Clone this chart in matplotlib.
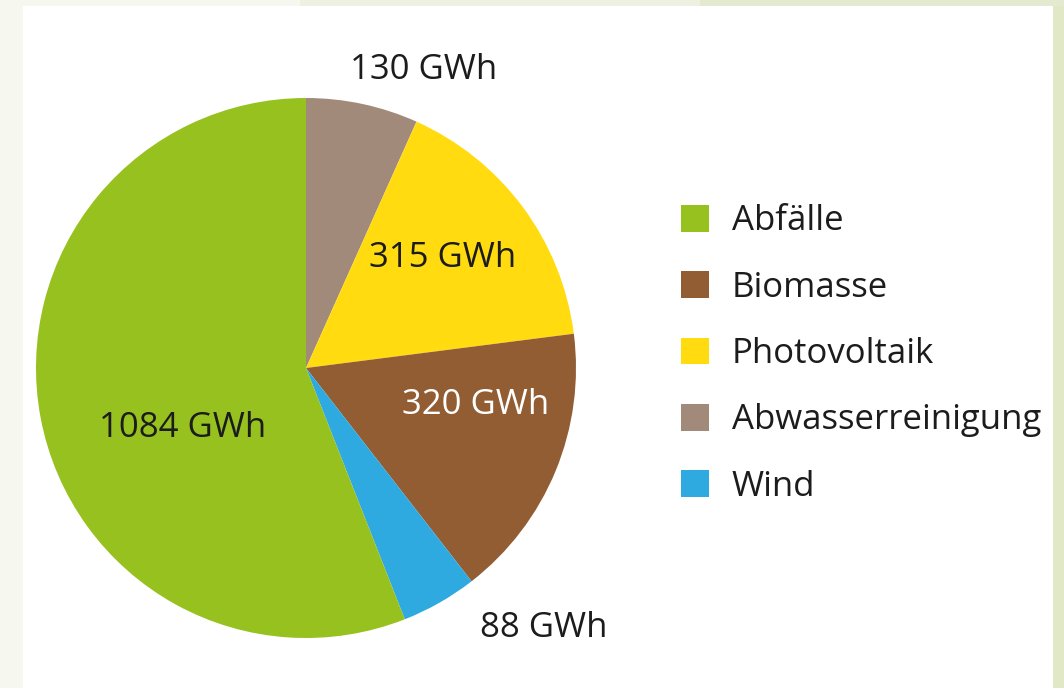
import matplotlib
matplotlib.use('Agg')
import matplotlib.pyplot as plt
from matplotlib.patches import Rectangle


# energy sources, drawn clockwise from 12 o'clock
SOURCES = ['Abwasserreinigung', 'Photovoltaik', 'Biomasse', 'Wind', 'Abfälle']
VALUES = [130, 315, 320, 88, 1084]
COLORS = ['#a28a7a', '#ffdb10', '#925d33', '#2eaae1', '#97c11f']

# legend order as in the original
LEGEND_ORDER = ['Abfälle', 'Biomasse', 'Photovoltaik', 'Abwasserreinigung', 'Wind']

# where the value labels sit (axes data units, radius = 1)
LABEL_POS = {
    'Abwasserreinigung': (0.437, 1.103, '#1c1c1c'),
    'Photovoltaik': (0.507, 0.407, '#1c1c1c'),
    'Biomasse': (0.630, -0.137, 'white'),
    'Wind': (0.881, -0.963, '#1c1c1c'),
    'Abfälle': (-0.456, -0.222, '#1c1c1c'),
}

W, H = 1064, 688
plt.rcParams['font.family'] = ['Open Sans', 'DejaVu Sans']

fig = plt.figure(figsize=(W / 100, H / 100), dpi=100)
fig.patch.set_facecolor('#f6f7ef')

# framing: green strip right/top, white panel
frame = [
    ((1053 / W, 0), 11 / W, 1, '#e0e8c6'),
    ((300 / W, 1 - 6 / H), 400 / W, 6 / H, '#eef1e2'),
    ((700 / W, 1 - 6 / H), 364 / W, 6 / H, '#e4ead0'),
    ((23 / W, 0), 1030 / W, 1 - 6 / H, 'white'),
]
for xy, w, h, c in frame:
    fig.patches.append(Rectangle(xy, w, h, transform=fig.transFigure,
                                 facecolor=c, edgecolor='none', zorder=-5))

# pie axis: center (306, 368) px, radius 270 px
r = 270
ax = fig.add_axes([(306 - r) / W, (H - 368 - r) / H, 2 * r / W, 2 * r / H])
ax.set_zorder(2)
ax.set_facecolor('none')
wedges, _ = ax.pie(VALUES, colors=COLORS, startangle=90, counterclock=False,
                   wedgeprops=dict(linewidth=0))
ax.set_xlim(-1, 1)
ax.set_ylim(-1, 1)
ax.set_aspect('equal')
ax.axis('off')

for name, value in zip(SOURCES, VALUES):
    x, y, color = LABEL_POS[name]
    ax.text(x, y, f'{value} GWh', ha='center', va='center', fontsize=25,
            color=color, fontweight='medium', clip_on=False)

handles = [wedges[SOURCES.index(n)] for n in LEGEND_ORDER]
leg = fig.legend(handles, LEGEND_ORDER, loc='center left',
                 bbox_to_anchor=(681 / W, (H - 354) / H), frameon=False,
                 borderaxespad=0, borderpad=0,
                 fontsize=25, handlelength=0.8, handleheight=0.8,
                 handletextpad=0.66, labelspacing=0.93, labelcolor='#1c1c1c')
leg.set_zorder(3)

fig.savefig('out.png', dpi=100, facecolor=fig.get_facecolor())
